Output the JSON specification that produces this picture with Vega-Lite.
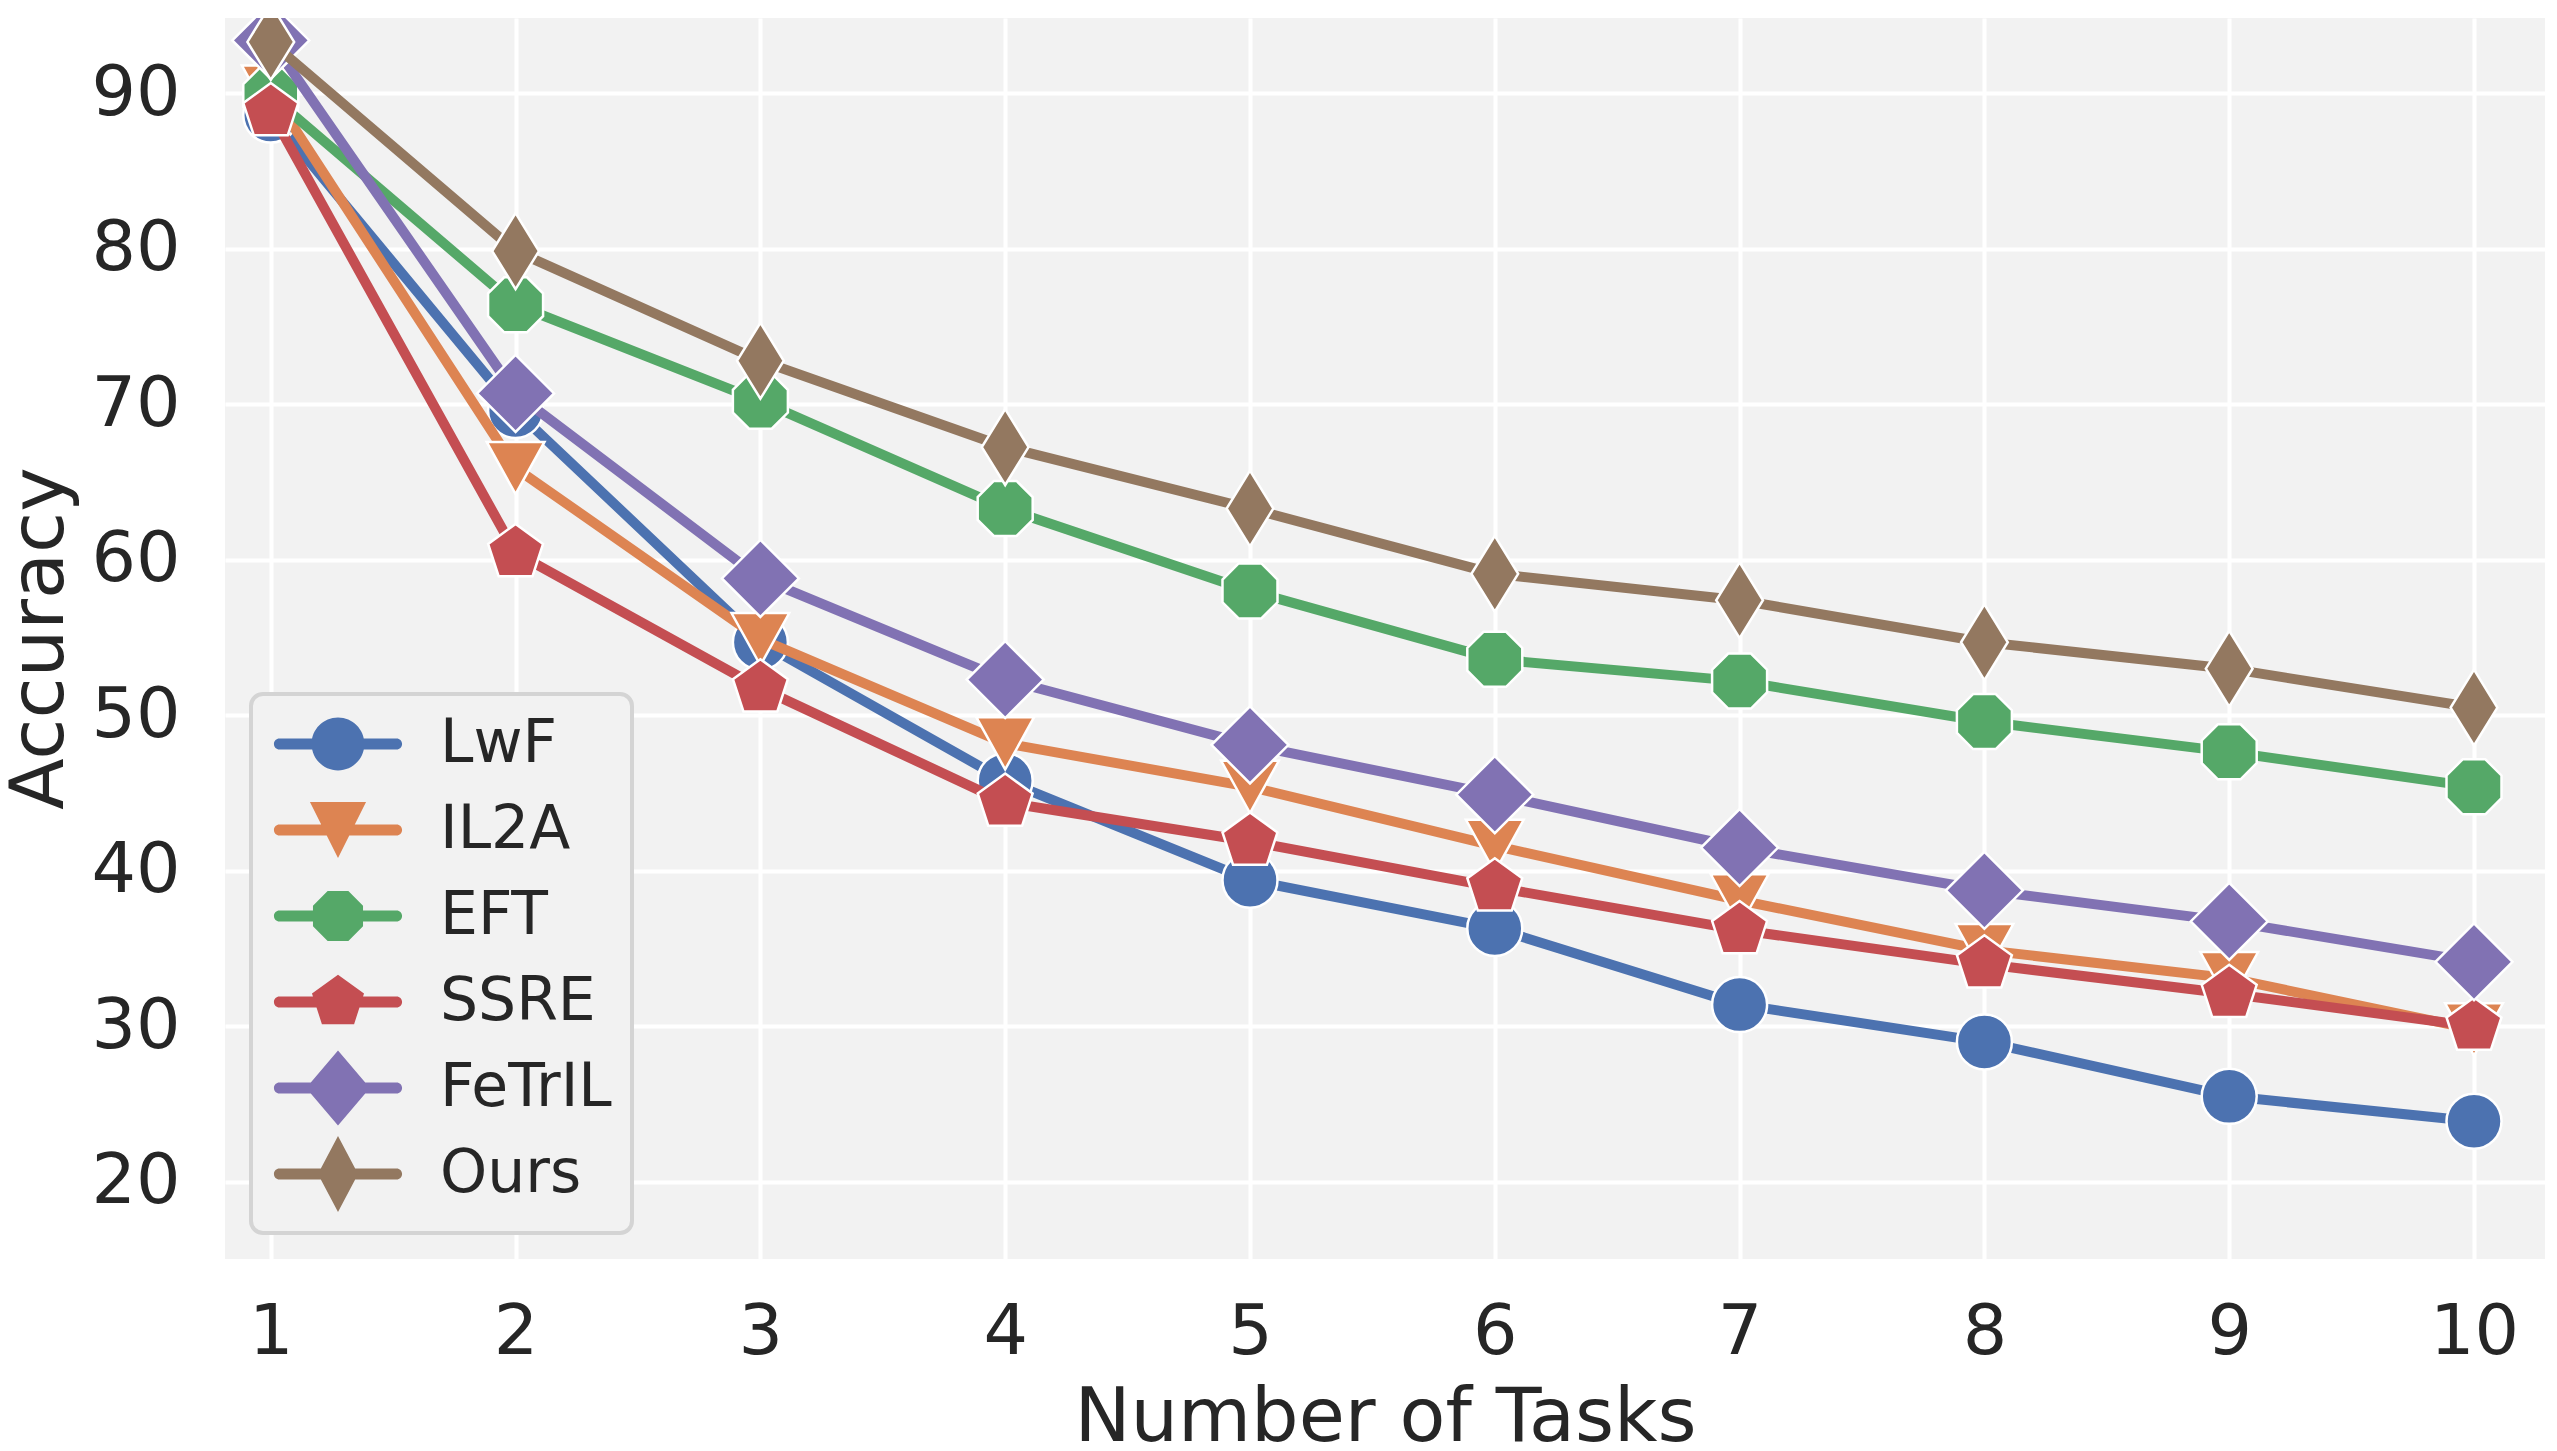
{
  "$schema": "https://vega.github.io/schema/vega-lite/v6.json",
  "width": 2320,
  "height": 1241,
  "autosize": {"type": "none"},
  "padding": {"left": 225, "top": 18, "right": 12, "bottom": 192},
  "background": "white",
  "config": {
    "font": "DejaVu Sans",
    "view": {"fill": "#F2F2F2", "stroke": null},
    "axis": {
      "grid": true, "gridColor": "white", "gridWidth": 4, "gridOpacity": 1,
      "domain": false, "ticks": false, "tickSize": 0,
      "labelFontSize": 70, "labelColor": "#262626", "labelFont": "DejaVu Sans",
      "titleFontSize": 75, "titleColor": "#262626", "titleFont": "DejaVu Sans", "titleFontWeight": "normal"
    },
    "legend": {
      "title": null, "orient": "bottom-left", "offset": 26,
      "labelFontSize": 60, "labelColor": "#262626", "labelFont": "DejaVu Sans", "labelBaseline": "middle", "labelLimit": 500,
      "symbolSize": 3025, "symbolStrokeWidth": 0, "symbolOpacity": 1,
      "symbolOffset": 37, "labelOffset": 72, "rowPadding": 8, "padding": 20,
      "fillColor": "#F2F2F2", "strokeColor": "#D4D4D4", "strokeWidth": 4, "cornerRadius": 12
    }
  },
  "data": {
    "values": [
      {"task": 1, "method": "LwF", "acc": 88.6}, {"task": 2, "method": "LwF", "acc": 69.6}, {"task": 3, "method": "LwF", "acc": 54.7}, {"task": 4, "method": "LwF", "acc": 45.8}, {"task": 5, "method": "LwF", "acc": 39.4}, {"task": 6, "method": "LwF", "acc": 36.3}, {"task": 7, "method": "LwF", "acc": 31.4}, {"task": 8, "method": "LwF", "acc": 29.0}, {"task": 9, "method": "LwF", "acc": 25.5}, {"task": 10, "method": "LwF", "acc": 23.9},
      {"task": 1, "method": "IL2A", "acc": 90.1}, {"task": 2, "method": "IL2A", "acc": 65.9}, {"task": 3, "method": "IL2A", "acc": 54.9}, {"task": 4, "method": "IL2A", "acc": 48.2}, {"task": 5, "method": "IL2A", "acc": 45.4}, {"task": 6, "method": "IL2A", "acc": 41.6}, {"task": 7, "method": "IL2A", "acc": 38.1}, {"task": 8, "method": "IL2A", "acc": 34.9}, {"task": 9, "method": "IL2A", "acc": 33.1}, {"task": 10, "method": "IL2A", "acc": 29.8},
      {"task": 1, "method": "EFT", "acc": 89.85}, {"task": 2, "method": "EFT", "acc": 76.4}, {"task": 3, "method": "EFT", "acc": 70.2}, {"task": 4, "method": "EFT", "acc": 63.3}, {"task": 5, "method": "EFT", "acc": 58.0}, {"task": 6, "method": "EFT", "acc": 53.6}, {"task": 7, "method": "EFT", "acc": 52.2}, {"task": 8, "method": "EFT", "acc": 49.6}, {"task": 9, "method": "EFT", "acc": 47.65}, {"task": 10, "method": "EFT", "acc": 45.4},
      {"task": 1, "method": "SSRE", "acc": 88.8}, {"task": 2, "method": "SSRE", "acc": 60.45}, {"task": 3, "method": "SSRE", "acc": 51.75}, {"task": 4, "method": "SSRE", "acc": 44.4}, {"task": 5, "method": "SSRE", "acc": 41.9}, {"task": 6, "method": "SSRE", "acc": 38.95}, {"task": 7, "method": "SSRE", "acc": 36.2}, {"task": 8, "method": "SSRE", "acc": 34.0}, {"task": 9, "method": "SSRE", "acc": 32.1}, {"task": 10, "method": "SSRE", "acc": 30.0},
      {"task": 1, "method": "FeTrIL", "acc": 93.4}, {"task": 2, "method": "FeTrIL", "acc": 70.7}, {"task": 3, "method": "FeTrIL", "acc": 58.8}, {"task": 4, "method": "FeTrIL", "acc": 52.3}, {"task": 5, "method": "FeTrIL", "acc": 48.1}, {"task": 6, "method": "FeTrIL", "acc": 44.9}, {"task": 7, "method": "FeTrIL", "acc": 41.5}, {"task": 8, "method": "FeTrIL", "acc": 38.75}, {"task": 9, "method": "FeTrIL", "acc": 36.75}, {"task": 10, "method": "FeTrIL", "acc": 34.15},
      {"task": 1, "method": "Ours", "acc": 93.3}, {"task": 2, "method": "Ours", "acc": 79.85}, {"task": 3, "method": "Ours", "acc": 72.8}, {"task": 4, "method": "Ours", "acc": 67.25}, {"task": 5, "method": "Ours", "acc": 63.3}, {"task": 6, "method": "Ours", "acc": 59.1}, {"task": 7, "method": "Ours", "acc": 57.4}, {"task": 8, "method": "Ours", "acc": 54.7}, {"task": 9, "method": "Ours", "acc": 53.0}, {"task": 10, "method": "Ours", "acc": 50.5}
    ]
  },
  "encoding": {
    "x": {
      "field": "task", "type": "quantitative",
      "scale": {"domain": [0.813, 10.29], "nice": false, "zero": false},
      "axis": {"title": "Number of Tasks", "values": [1,2,3,4,5,6,7,8,9,10], "format": "d", "labelPadding": 39, "titleBaseline": "alphabetic", "titleY": 181}
    },
    "y": {
      "field": "acc", "type": "quantitative",
      "scale": {"domain": [15.04, 94.84], "nice": false, "zero": false},
      "axis": {"title": "Accuracy", "values": [20,30,40,50,60,70,80,90], "format": "d", "labelPadding": 45, "titleBaseline": "alphabetic", "titleX": -163, "titleY": 620}
    }
  },
  "layer": [
    {"mark": {"type": "point", "filled": true, "opacity": 0, "size": 3025, "strokeWidth": 0},
     "encoding": {
       "fill": {"field": "method", "type": "nominal", "scale": {"domain": ["LwF","IL2A","EFT","SSRE","FeTrIL","Ours"], "range": ["#4C72B0","#DD8452","#55A868","#C44E52","#8172B3","#937860"]}},
       "shape": {"field": "method", "type": "nominal", "scale": {"domain": ["LwF","IL2A","EFT","SSRE","FeTrIL","Ours"], "range": [
         "M-2.36,-1.4L-2.36,-1.4M-2.36,1.4L-2.36,1.4M-2.13,-0.2L2.13,-0.2A0.2,0.2 0 0 1 2.13,0.2L-2.13,0.2A0.2,0.2 0 0 1 -2.13,-0.2ZM-0.96,0A0.96,0.96 0 1 1 0.96,0A0.96,0.96 0 1 1 -0.96,0Z",
         "M-2.36,-1.4L-2.36,-1.4M-2.36,1.4L-2.36,1.4M-2.13,-0.2L2.13,-0.2A0.2,0.2 0 0 1 2.13,0.2L-2.13,0.2A0.2,0.2 0 0 1 -2.13,-0.2ZM-1.02,-1.02L1.02,-1.02L0,1.02Z",
         "M-2.36,-1.4L-2.36,-1.4M-2.36,1.4L-2.36,1.4M-2.13,-0.2L2.13,-0.2A0.2,0.2 0 0 1 2.13,0.2L-2.13,0.2A0.2,0.2 0 0 1 -2.13,-0.2ZM-0.377,-0.91L0.377,-0.91L0.91,-0.377L0.91,0.377L0.377,0.91L-0.377,0.91L-0.91,0.377L-0.91,-0.377Z",
         "M-2.36,-1.4L-2.36,-1.4M-2.36,1.4L-2.36,1.4M-2.13,-0.2L2.13,-0.2A0.2,0.2 0 0 1 2.13,0.2L-2.13,0.2A0.2,0.2 0 0 1 -2.13,-0.2ZM0,-0.995L0.946,-0.307L0.585,0.805L-0.585,0.805L-0.946,-0.307Z",
         "M-2.36,-1.4L-2.36,-1.4M-2.36,1.4L-2.36,1.4M-2.13,-0.2L2.13,-0.2A0.2,0.2 0 0 1 2.13,0.2L-2.13,0.2A0.2,0.2 0 0 1 -2.13,-0.2ZM0,-1.36L1.16,0L0,1.36L-1.16,0Z",
         "M-2.36,-1.4L-2.36,-1.4M-2.36,1.4L-2.36,1.4M-2.13,-0.2L2.13,-0.2A0.2,0.2 0 0 1 2.13,0.2L-2.13,0.2A0.2,0.2 0 0 1 -2.13,-0.2ZM0,-1.38L0.73,0L0,1.38L-0.73,0Z"
       ]}}
     }},
    {"transform": [{"filter": "datum.method === 'LwF'"}], "mark": {"type": "line", "strokeWidth": 10, "strokeJoin": "round", "clip": true},
     "encoding": {"stroke": {"field": "method", "type": "nominal", "scale": {"domain": ["Ours","FeTrIL","SSRE","EFT","IL2A","LwF"], "range": ["#937860","#8172B3","#C44E52","#55A868","#DD8452","#4C72B0"]}, "legend": null}}},
    {"transform": [{"filter": "datum.method === 'LwF'"}], "mark": {"type": "point", "shape": "circle", "filled": true, "opacity": 1, "size": 3025, "stroke": "white", "strokeWidth": 2.5, "clip": true},
     "encoding": {"fill": {"field": "method", "type": "nominal"}}},
    {"transform": [{"filter": "datum.method === 'IL2A'"}], "mark": {"type": "line", "strokeWidth": 10, "strokeJoin": "round", "clip": true},
     "encoding": {"stroke": {"field": "method", "type": "nominal", "legend": null}}},
    {"transform": [{"filter": "datum.method === 'IL2A'"}], "mark": {"type": "point", "shape": "M-1.05,-0.95L1.05,-0.95L0,0.95Z", "filled": true, "opacity": 1, "size": 3025, "stroke": "white", "strokeWidth": 2.5, "clip": true},
     "encoding": {"fill": {"field": "method", "type": "nominal"}}},
    {"transform": [{"filter": "datum.method === 'EFT'"}], "mark": {"type": "line", "strokeWidth": 10, "strokeJoin": "round", "clip": true},
     "encoding": {"stroke": {"field": "method", "type": "nominal", "legend": null}}},
    {"transform": [{"filter": "datum.method === 'EFT'"}], "mark": {"type": "point", "shape": "M-0.414,-1L0.414,-1L1,-0.414L1,0.414L0.414,1L-0.414,1L-1,0.414L-1,-0.414Z", "filled": true, "opacity": 1, "size": 3025, "stroke": "white", "strokeWidth": 2.5, "clip": true},
     "encoding": {"fill": {"field": "method", "type": "nominal"}}},
    {"transform": [{"filter": "datum.method === 'SSRE'"}], "mark": {"type": "line", "strokeWidth": 10, "strokeJoin": "round", "clip": true},
     "encoding": {"stroke": {"field": "method", "type": "nominal", "legend": null}}},
    {"transform": [{"filter": "datum.method === 'SSRE'"}], "mark": {"type": "point", "shape": "M0,-1.05L0.999,-0.324L0.617,0.849L-0.617,0.849L-0.999,-0.324Z", "filled": true, "opacity": 1, "size": 3025, "stroke": "white", "strokeWidth": 2.5, "clip": true},
     "encoding": {"fill": {"field": "method", "type": "nominal"}}},
    {"transform": [{"filter": "datum.method === 'FeTrIL'"}], "mark": {"type": "line", "strokeWidth": 10, "strokeJoin": "round", "clip": true},
     "encoding": {"stroke": {"field": "method", "type": "nominal", "legend": null}}},
    {"transform": [{"filter": "datum.method === 'FeTrIL'"}], "mark": {"type": "point", "shape": "M0,-1.4L1.4,0L0,1.4L-1.4,0Z", "filled": true, "opacity": 1, "size": 3025, "stroke": "white", "strokeWidth": 2.5, "clip": true},
     "encoding": {"fill": {"field": "method", "type": "nominal"}}},
    {"transform": [{"filter": "datum.method === 'Ours'"}], "mark": {"type": "line", "strokeWidth": 10, "strokeJoin": "round", "clip": true},
     "encoding": {"stroke": {"field": "method", "type": "nominal", "legend": null}}},
    {"transform": [{"filter": "datum.method === 'Ours'"}], "mark": {"type": "point", "shape": "M0,-1.38L0.85,0L0,1.38L-0.85,0Z", "filled": true, "opacity": 1, "size": 3025, "stroke": "white", "strokeWidth": 2.5, "clip": true},
     "encoding": {"fill": {"field": "method", "type": "nominal"}}}
  ]
}
